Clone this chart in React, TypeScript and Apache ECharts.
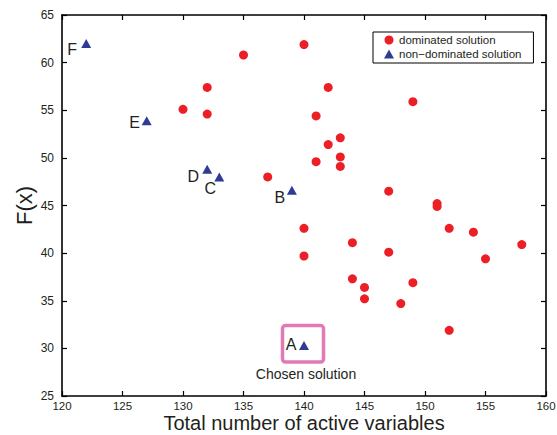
import React, { useEffect, useRef } from "react";
import * as echarts from "echarts";

// Dominated solutions
const domX = [140, 135, 132, 130, 132, 137, 142, 149, 141, 143, 142, 141, 143, 143, 147, 151, 151, 140, 140, 152, 154, 158, 155, 144, 147, 144, 145, 145, 149, 148, 152];
const domY = [61.9, 60.8, 57.4, 55.1, 54.6, 48.0, 57.4, 55.9, 54.4, 52.1, 51.4, 49.6, 50.1, 49.1, 46.5, 45.2, 44.9, 42.6, 39.7, 42.6, 42.2, 40.9, 39.4, 41.1, 40.1, 37.3, 36.4, 35.2, 36.9, 34.7, 31.9];

// Non-dominated solutions
const ndLabels = ["F", "E", "D", "C", "B", "A"];
const ndX = [122, 127, 132, 133, 139, 140];
const ndY = [62.0, 53.9, 48.8, 48.0, 46.6, 30.3];

const seriesNames = ["dominated solution", "non\u2212dominated solution"];
const xTitle = "Total number of active variables";
const yTitle = "F(x)";
const chosenText = "Chosen solution";
const chosenIndex = 5;

const xMin = 120, xMax = 160, xStep = 5;
const yMin = 25, yMax = 65, yStep = 5;

// label offsets (style)
const labelOffsets: Record<string, number[]> = {
  F: [-14, 6],
  E: [-12, 2],
  D: [-14, 7],
  C: [-9, 12],
  B: [-12, 7],
  A: [-13, -1],
};

const FONT = "Liberation Sans, Arial, Helvetica, sans-serif";
const TXT = "#231F20";

export default function App() {
  const ref = useRef<HTMLDivElement>(null);
  useEffect(() => {
    if (!ref.current) return;
    const chart = echarts.init(ref.current, undefined, { renderer: "svg" });
    const axisLine = { show: true, onZero: false, lineStyle: { color: "#000", width: 1.6 } };
    const axisTick = { show: true, inside: true, length: 5, lineStyle: { color: "#000", width: 1.2 } };
    chart.setOption({
      animation: false,
      backgroundColor: "#fff",
      textStyle: { fontFamily: FONT },
      grid: { left: 62, right: 11, top: 15, bottom: 39, containLabel: false, outerBoundsMode: "none" },
      legend: {
        orient: "vertical",
        left: 373,
        top: 32,
        padding: [2, 12, 3, 11],
        itemGap: 2,
        itemWidth: 10,
        itemHeight: 9,
        borderColor: "#000",
        borderWidth: 1,
        backgroundColor: "#fff",
        textStyle: { fontSize: 11.5, color: TXT, fontFamily: FONT, lineHeight: 12 },
        data: [
          { name: seriesNames[0], icon: "circle" },
          { name: seriesNames[1], icon: "triangle" },
        ],
      },
      xAxis: [
        {
          type: "value",
          position: "bottom",
          min: xMin,
          max: xMax,
          interval: xStep,
          axisLine,
          axisTick,
          splitLine: { show: false },
          axisLabel: { color: TXT, fontSize: 11.5, lineHeight: 11, margin: 4, fontFamily: FONT },
          name: xTitle,
          nameLocation: "middle",
          nameGap: 17.5,
          nameMoveOverlap: false,
          nameTextStyle: { fontSize: 20, lineHeight: 19, color: TXT, fontFamily: FONT },
        },
        {
          type: "value",
          position: "top",
          min: xMin,
          max: xMax,
          interval: xStep,
          axisLine,
          axisTick,
          splitLine: { show: false },
          axisLabel: { show: false },
        },
      ],
      yAxis: [
        {
          type: "value",
          position: "left",
          min: yMin,
          max: yMax,
          interval: yStep,
          axisLine,
          axisTick,
          splitLine: { show: false },
          axisLabel: { color: TXT, fontSize: 12, margin: 8, fontFamily: FONT },
          name: yTitle,
          nameLocation: "middle",
          nameGap: 27,
          nameMoveOverlap: false,
          nameTextStyle: { fontSize: 22, color: TXT, fontFamily: FONT },
        },
        {
          type: "value",
          position: "right",
          min: yMin,
          max: yMax,
          interval: yStep,
          axisLine,
          axisTick,
          splitLine: { show: false },
          axisLabel: { show: false },
        },
      ],
      series: [
        {
          name: seriesNames[0],
          type: "scatter",
          symbol: "circle",
          symbolSize: 9,
          itemStyle: { color: "#EC1F26", opacity: 1 },
          data: domX.map((x, i) => [x, domY[i]]),
        },
        {
          name: seriesNames[1],
          type: "scatter",
          symbol: "triangle",
          symbolSize: [10, 9],
          itemStyle: { color: "#2E3C95", opacity: 1 },
          data: ndX.map((x, i) => ({
            value: [x, ndY[i]],
            label: {
              show: true,
              formatter: ndLabels[i],
              position: "inside",
              offset: labelOffsets[ndLabels[i]],
              fontSize: 16,
              color: TXT,
              fontFamily: FONT,
            },
          })),
        },
      ],
    });
    const p = chart.convertToPixel({ xAxisIndex: 0, yAxisIndex: 0 }, [ndX[chosenIndex], ndY[chosenIndex]]) as number[];
    chart.setOption({
      graphic: [
        {
          type: "rect",
          shape: { x: p[0] - 21.5, y: p[1] - 20, width: 41, height: 36.5, r: 3 },
          style: { fill: "none", stroke: "#E27AB6", lineWidth: 3.5 },
          z: 1,
        },
        {
          type: "text",
          x: p[0] + 2,
          y: p[1] + 28,
          style: {
            text: chosenText,
            fontSize: 14,
            fill: TXT,
            align: "center",
            verticalAlign: "middle",
            fontFamily: FONT,
          },
        },
      ],
    });
    return () => chart.dispose();
  }, []);
  return (
    <div
      ref={ref}
      style={{ position: "absolute", left: 0, top: 0, width: 557, height: 435 }}
    />
  );
}
